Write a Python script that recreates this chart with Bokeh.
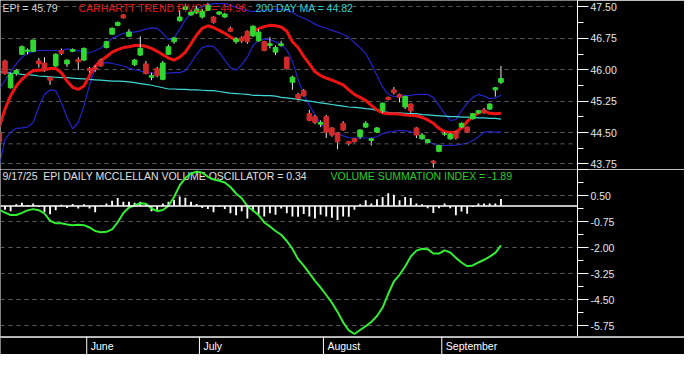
import numpy as np
from bokeh.plotting import figure
from bokeh.layouts import column
from bokeh.models import Range1d, FixedTicker, NumeralTickFormatter, Span, ColumnDataSource
from bokeh.core.properties import value
from bokeh.embed import file_html
from bokeh.resources import INLINE

# ---------------- data (one entry per trading day, May 8 .. Sep 16/17) ----------------
bar_index = list(range(-1, 89))

opens = [44.49, 46.21, 45.57, 45.91, 46.37, 46.44, 46.44, 46.21, 46.16, 45.82,
         46.09, 46.46, 46.14, 46.44, 46.24, 46.23, 46.03, 46.05, 46.23, 46.53,
         46.85, 47.06, 47.31, 46.80, 46.12, 46.35, 46.14, 45.82, 46.03, 45.77,
         46.37, 46.67, 47.17, 47.44, 47.31, 47.36, 47.26, 47.42, 47.26, 47.33,
         47.26, 46.99, 46.67, 46.76, 46.92, 46.81, 46.69, 46.67, 46.58, 46.42,
         46.58, 46.30, 45.70, 45.41, 45.50, 44.95, 44.88, 44.70, 44.88, 44.61,
         44.49, 44.72, 44.28, 44.35, 44.40, 44.63, 44.31, 44.51, 45.02, 45.34,
         45.52, 45.41, 45.11, 45.18, 44.61, 44.35, 44.26, 43.82, 44.05, 44.46,
         44.35, 44.51, 44.63, 44.63, 44.83, 44.97, 45.04, 45.06, 45.52, 45.70]
highs = [44.51, 46.24, 45.93, 46.02, 46.58, 46.51, 46.72, 46.28, 46.30, 45.83,
         46.39, 46.51, 46.25, 46.51, 46.30, 46.53, 46.07, 46.10, 46.26, 46.69,
         47.01, 47.15, 47.33, 46.97, 46.26, 46.80, 46.21, 45.93, 46.07, 46.21,
         46.60, 46.78, 47.42, 47.58, 47.42, 47.52, 47.45, 47.60, 47.28, 47.40,
         47.36, 47.03, 46.78, 46.80, 46.94, 47.06, 46.97, 46.69, 46.78, 46.58,
         46.69, 46.31, 45.86, 45.45, 45.54, 45.04, 44.92, 44.79, 44.92, 44.63,
         44.51, 44.77, 44.30, 44.37, 44.58, 44.77, 44.37, 44.63, 45.22, 45.36,
         45.59, 45.43, 45.38, 45.20, 44.63, 44.49, 44.35, 43.84, 44.21, 44.51,
         44.49, 44.54, 44.74, 44.65, 44.97, 45.04, 45.09, 45.20, 45.59, 46.09]
lows = [44.24, 45.88, 45.55, 45.86, 46.35, 46.37, 46.42, 46.05, 45.95, 45.64,
        46.07, 46.35, 46.07, 46.42, 45.99, 46.21, 45.93, 45.95, 46.07, 46.51,
        46.83, 47.04, 47.22, 46.78, 46.09, 46.33, 45.89, 45.75, 45.82, 45.75,
        46.35, 46.62, 47.15, 47.42, 47.29, 47.33, 47.22, 47.40, 47.10, 47.30,
        47.24, 46.90, 46.62, 46.64, 46.62, 46.78, 46.67, 46.44, 46.51, 46.35,
        46.55, 46.00, 45.52, 45.27, 45.36, 44.77, 44.70, 44.63, 44.37, 44.40,
        44.10, 44.54, 44.19, 44.26, 44.35, 44.61, 44.19, 44.49, 44.97, 45.27,
        45.41, 45.22, 45.06, 44.97, 44.37, 44.33, 44.24, 43.66, 44.03, 44.42,
        44.33, 44.33, 44.61, 44.49, 44.81, 44.95, 44.95, 45.04, 45.36, 45.66]
closes = [44.28, 45.91, 45.89, 45.98, 46.55, 46.47, 46.71, 46.14, 45.98, 45.75,
          46.37, 46.39, 46.23, 46.48, 46.19, 46.51, 45.98, 46.00, 46.09, 46.67,
          46.99, 47.13, 47.24, 46.90, 46.23, 46.51, 45.91, 45.86, 45.86, 46.16,
          46.55, 46.76, 47.26, 47.50, 47.38, 47.45, 47.40, 47.54, 47.13, 47.38,
          47.33, 46.92, 46.74, 46.69, 46.67, 47.04, 46.90, 46.46, 46.62, 46.53,
          46.62, 46.03, 45.82, 45.31, 45.38, 44.79, 44.74, 44.74, 44.51, 44.44,
          44.28, 44.56, 44.24, 44.28, 44.56, 44.72, 44.35, 44.61, 45.20, 45.29,
          45.45, 45.34, 45.36, 45.02, 44.44, 44.44, 44.33, 43.78, 44.19, 44.47,
          44.46, 44.37, 44.72, 44.51, 44.95, 45.02, 44.97, 45.18, 45.57, 45.79]

trend_pivot = [44.63, 45.06, 45.38, 45.61, 45.77, 45.89, 45.98, 45.99, 46.00, 46.03,
               46.03, 45.93, 45.73, 45.58, 45.53, 45.61, 45.86, 46.09, 46.22, 46.31,
               46.42, 46.48, 46.53, 46.55, 46.58, 46.58, 46.56, 46.51, 46.44, 46.36,
               46.28, 46.23, 46.30, 46.42, 46.62, 46.83, 46.99, 47.05, 47.01, 46.94,
               46.87, 46.78, 46.70, 46.72, 46.83, 46.92, 46.98, 47.03, 47.06, 47.05,
               47.02, 46.92, 46.67, 46.53, 46.32, 46.14, 45.95, 45.86, 45.80, 45.75,
               45.70, 45.64, 45.52, 45.41, 45.34, 45.27, 45.15, 45.04, 44.97, 44.95,
               44.95, 44.94, 44.92, 44.91, 44.90, 44.86, 44.80, 44.72, 44.60, 44.52,
               44.50, 44.51, 44.61, 44.76, 44.89, 44.97, 45.02, 44.96, 44.95, 44.96]
upper_band = [45.54, 45.75, 45.96, 46.14, 46.30, 46.39, 46.44, 46.46, 46.46, 46.46,
              46.46, 46.46, 46.50, 46.48, 46.45, 46.42, 46.40, 46.46, 46.52, 46.64,
              46.75, 46.81, 46.87, 46.90, 46.90, 46.93, 46.97, 47.00, 46.99, 46.87,
              46.72, 46.76, 46.97, 47.19, 47.36, 47.45, 47.52, 47.55, 47.58, 47.58,
              47.58, 47.54, 47.49, 47.45, 47.41, 47.39, 47.40, 47.42, 47.44, 47.44,
              47.45, 47.41, 47.37, 47.29, 47.23, 47.17, 47.09, 47.03, 46.99, 46.94,
              46.90, 46.84, 46.78, 46.64, 46.53, 46.39, 46.14, 45.86, 45.59, 45.41,
              45.36, 45.37, 45.38, 45.39, 45.41, 45.41, 45.41, 45.34, 45.15, 44.95,
              44.79, 44.81, 45.02, 45.20, 45.34, 45.41, 45.37, 45.31, 45.33, 45.39]
lower_band = [43.71, 44.33, 44.51, 44.60, 44.61, 44.63, 44.74, 45.11, 45.41, 45.52,
              45.50, 45.22, 44.86, 44.59, 44.74, 45.13, 45.64, 46.03, 46.16, 46.17,
              46.15, 46.12, 46.09, 46.04, 46.00, 45.97, 45.93, 45.92, 45.91, 45.91,
              45.92, 45.93, 45.93, 45.98, 46.16, 46.37, 46.53, 46.57, 46.56, 46.42,
              46.23, 46.05, 45.99, 46.12, 46.30, 46.58, 46.70, 46.73, 46.72, 46.67,
              46.60, 46.47, 46.20, 45.77, 45.41, 45.15, 44.92, 44.71, 44.59, 44.51,
              44.47, 44.42, 44.38, 44.37, 44.37, 44.37, 44.37, 44.40, 44.47, 44.51,
              44.53, 44.55, 44.54, 44.52, 44.47, 44.40, 44.29, 44.23, 44.19, 44.19,
              44.19, 44.20, 44.22, 44.25, 44.31, 44.40, 44.51, 44.52, 44.51, 44.51]
ma200 = [45.95, 45.94, 45.92, 45.91, 45.89, 45.88, 45.87, 45.85, 45.84, 45.83,
         45.82, 45.81, 45.81, 45.80, 45.79, 45.78, 45.77, 45.76, 45.75, 45.74,
         45.73, 45.73, 45.72, 45.71, 45.69, 45.67, 45.65, 45.63, 45.60, 45.57,
         45.54, 45.54, 45.53, 45.53, 45.52, 45.52, 45.51, 45.50, 45.50, 45.48,
         45.46, 45.44, 45.43, 45.42, 45.41, 45.39, 45.39, 45.38, 45.38, 45.37,
         45.34, 45.33, 45.31, 45.29, 45.27, 45.25, 45.23, 45.21, 45.19, 45.17,
         45.15, 45.13, 45.11, 45.10, 45.09, 45.07, 45.06, 45.03, 45.00, 44.98,
         44.97, 44.97, 44.96, 44.95, 44.95, 44.93, 44.92, 44.91, 44.90, 44.89,
         44.88, 44.88, 44.87, 44.87, 44.86, 44.85, 44.85, 44.84, 44.84, 44.82]

mcclellan_osc = [-0.10, -0.18, -0.25, 0.08, 0.15, 0.05, 0.12, -0.05, -0.30, -0.40,
                 -0.20, 0.06, -0.10, 0.10, -0.12, 0.08, -0.12, -0.30, 0.03, 0.12,
                 0.25, 0.38, 0.20, 0.20, 0.15, 0.20, 0.08, -0.25, -0.20, 0.12,
                 0.20, 0.30, 0.45, 0.40, 0.20, 0.10, -0.10, -0.15, -0.30, -0.05,
                 -0.15, -0.35, -0.45, -0.25, -0.60, -0.25, -0.38, -0.50, -0.35, -0.42,
                 -0.12, -0.35, -0.50, -0.52, -0.38, -0.50, -0.60, -0.42, -0.50, -0.56,
                 -0.67, -0.50, -0.52, -0.18, 0.08, 0.28, 0.12, 0.32, 0.43, 0.61,
                 0.54, 0.28, 0.43, 0.38, 0.12, 0.08, -0.11, -0.34, -0.11, 0.12,
                 -0.11, -0.44, -0.26, -0.37, -0.05, 0.12, 0.12, 0.12, 0.12, 0.34]
summation_index = [-0.18, -0.32, -0.43, -0.43, -0.33, -0.21, -0.15, -0.20, -0.36, -0.71,
                   -0.83, -0.83, -0.89, -0.92, -0.90, -0.92, -1.03, -1.20, -1.26, -1.24,
                   -1.12, -0.78, -0.34, -0.07, 0.03, 0.13, 0.11, -0.12, -0.25, -0.19,
                   0.00, 0.43, 0.99, 1.34, 1.56, 1.65, 1.60, 1.40, 1.27, 1.21,
                   1.13, 0.91, 0.60, 0.37, -0.01, -0.22, -0.44, -0.79, -0.98, -1.20,
                   -1.38, -1.68, -2.06, -2.55, -2.86, -3.22, -3.59, -3.92, -4.27, -4.64,
                   -5.08, -5.58, -5.97, -6.14, -5.95, -5.77, -5.56, -5.28, -4.87, -4.21,
                   -3.62, -3.30, -2.90, -2.42, -2.14, -2.05, -2.07, -2.28, -2.28, -2.13,
                   -2.23, -2.49, -2.71, -2.89, -2.85, -2.71, -2.58, -2.43, -2.25, -1.89]

price_ticks = [43.75, 44.50, 45.25, 46.00, 46.75, 47.50]
price_minor = [44.125, 44.875, 45.625, 46.375, 47.125]
extra_level = 44.23
osc_ticks = [1.75, 0.50, -0.75, -2.00, -3.25, -4.50, -5.75]
osc_minor = [1.125, -0.125, -1.375, -2.625, -3.875, -5.125]

month_names = ["June", "July", "August", "September"]
month_first_bar = [15, 35, 57, 78]

title_epi = "EPI = 45.79"
title_pivot = "CARHARTT TREND PIVOT = 44.96"
title_ma = "200 DAY MA = 44.82"
title_osc = "9/17/25\u00a0 EPI DAILY MCCLELLAN VOLUME OSCILLATOR = 0.34"
title_vsi = "VOLUME SUMMATION INDEX = -1.89"

# ---------------- layout constants ----------------
FONT = "Liberation Sans"
FS = "10.5px"
PX_PER_BAR = 5.636
FRAME_W = 577
RIGHT_W = 107
X0 = -4.5 / PX_PER_BAR
X1 = X0 + FRAME_W / PX_PER_BAR
PRICE_RANGE = (43.617, 47.654)
OSC_RANGE = (-6.26, 1.75)
GRID_COLOR = "#5c5c5c"

def base_fig(h, yr):
    p = figure(frame_width=FRAME_W, frame_height=h,
               x_range=Range1d(X0, X1), y_range=Range1d(*yr),
               x_axis_location=None, y_axis_location="right",
               output_backend="svg", toolbar_location=None,
               background_fill_color="black", border_fill_color="black",
               outline_line_color=None, min_border=0, min_border_right=RIGHT_W)
    p.xgrid.visible = False
    return p

def style_axis(p, ticks, minor):
    ax = p.yaxis[0]
    ax.ticker = FixedTicker(ticks=ticks, minor_ticks=minor)
    ax.formatter = NumeralTickFormatter(format="0.00")
    ax.axis_line_color = "white"
    ax.axis_line_width = 1
    ax.major_tick_line_color = "white"
    ax.minor_tick_line_color = "white"
    ax.major_tick_out = 11
    ax.major_tick_in = 0
    ax.minor_tick_out = 6
    ax.minor_tick_in = 0
    ax.major_label_standoff = 2
    ax.major_label_text_color = "#e6e6e6"
    ax.major_label_text_font = FONT
    ax.major_label_text_font_size = FS
    p.ygrid.ticker = FixedTicker(ticks=ticks)
    p.ygrid.grid_line_color = GRID_COLOR
    p.ygrid.grid_line_dash = "4 4"
    p.ygrid.grid_line_width = 1

# ---------------- price panel ----------------
p1 = base_fig(169, PRICE_RANGE)
style_axis(p1, price_ticks, price_minor)
p1.add_layout(Span(location=extra_level, dimension="width", line_color=GRID_COLOR,
                   line_dash="4 4", line_width=1))

lines_src = ColumnDataSource(dict(x=bar_index, pivot=trend_pivot, up=upper_band,
                                  lo=lower_band, ma=ma200))
p1.line("x", "up", source=lines_src, line_color="#2323c8", line_width=1.2)
p1.line("x", "lo", source=lines_src, line_color="#2323c8", line_width=1.2)
p1.line("x", "ma", source=lines_src, line_color="#3fd8d8", line_width=1.2)
p1.line("x", "pivot", source=lines_src, line_color="#ee1414", line_width=3)

o = np.array(opens); c = np.array(closes)
candle_src = ColumnDataSource(dict(
    x=bar_index, high=highs, low=lows,
    top=np.maximum(o, c), bottom=np.minimum(o, c),
    color=["#30d830" if cc >= oo else "#d02a2a" for oo, cc in zip(opens, closes)]))
p1.segment(x0="x", y0="low", x1="x", y1="high", source=candle_src,
           line_color="#e8e8e8", line_width=1)
p1.vbar(x="x", width=0.82, top="top", bottom="bottom", source=candle_src,
        fill_color="color", line_color="color", line_width=1)

for txt, off, col in [(title_epi, 2, "#d4d4d4"), (title_pivot, 78, "#e01b1b"),
                      (title_ma, 255, "#2fd0d0")]:
    p1.text(x=[X0], y=[PRICE_RANGE[1]], text=[txt], x_offset=off, y_offset=7,
            text_baseline="middle", text_align="left", text_color=col,
            text_font=value(FONT), text_font_size=FS)

# ---------------- oscillator panel ----------------
p2 = base_fig(167, OSC_RANGE)
style_axis(p2, osc_ticks, osc_minor)
p2.yaxis[0].major_label_overrides = {1.75: ""}

osc = np.array(mcclellan_osc)
osc_src = ColumnDataSource(dict(x=bar_index, top=np.maximum(osc, 0), bottom=np.minimum(osc, 0),
                                vsi=summation_index))
p2.vbar(x="x", width=0.33, top="top", bottom="bottom", source=osc_src,
        fill_color="white", line_color=None)
p2.add_layout(Span(location=0, dimension="width", line_color="white", line_width=1.5))

p2.text(x=[X0], y=[OSC_RANGE[1]], text=[title_osc], x_offset=2, y_offset=6,
        text_baseline="middle", text_align="left", text_color="#e0e0e0",
        text_font=value(FONT), text_font_size=FS)
p2.text(x=[X0], y=[OSC_RANGE[1]], text=[title_vsi], x_offset=330, y_offset=6,
        text_baseline="middle", text_align="left", text_color="#2ecc2e",
        text_font=value(FONT), text_font_size=FS)
p2.line("x", "vsi", source=osc_src, line_color="#33ee33", line_width=2)

# ---------------- date strip ----------------
STRIP_W = FRAME_W + RIGHT_W
p3 = figure(frame_width=STRIP_W, frame_height=18,
            x_range=Range1d(X0, X0 + STRIP_W / PX_PER_BAR), y_range=Range1d(0, 18),
            x_axis_location=None, y_axis_location=None,
            output_backend="svg", toolbar_location=None,
            background_fill_color="black", border_fill_color="black",
            outline_line_color=None, min_border=0)
p3.grid.visible = False
p3.add_layout(Span(location=17.5, dimension="width", line_color="white", line_width=1.5))
div_x = [m - 0.5 for m in month_first_bar]
p3.segment(x0=div_x, y0=[0] * len(div_x), x1=div_x, y1=[18] * len(div_x),
           line_color="white", line_width=1)
p3.text(x=div_x, y=[8.5] * len(div_x), text=month_names, x_offset=4,
        text_baseline="middle", text_align="left", text_color="white",
        text_font=value(FONT), text_font_size=FS)

layout = column(p1, p2, p3, spacing=0)
open("out.html", "w").write(file_html(layout, INLINE))
